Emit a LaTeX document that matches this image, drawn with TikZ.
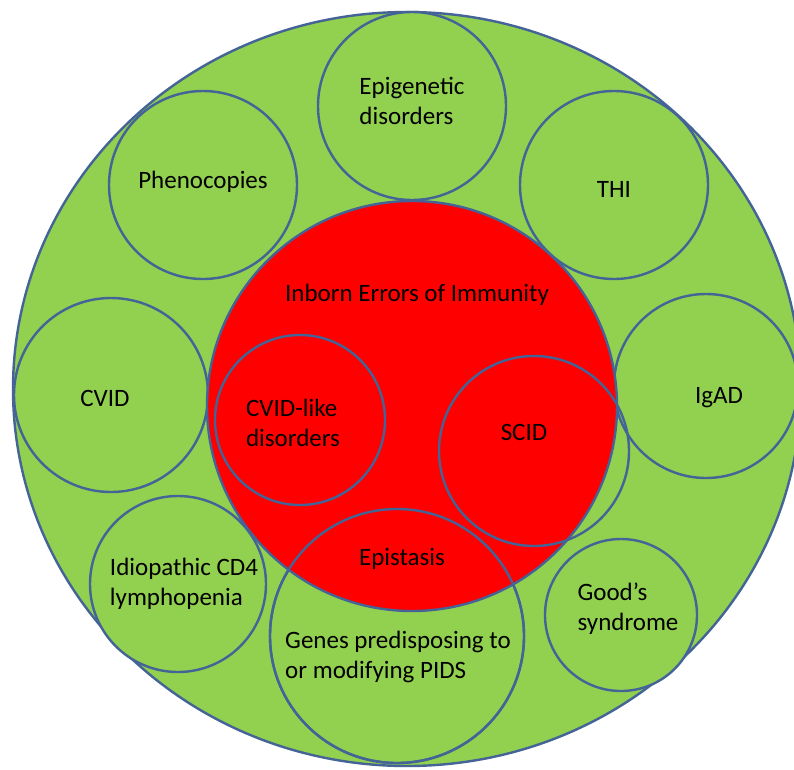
\documentclass[tikz,border=0pt]{standalone}
\usepackage{fontspec}
\setmainfont{Carlito}
\definecolor{gfill}{RGB}{146,208,80}
\definecolor{rfill}{RGB}{255,0,0}
\definecolor{edge}{RGB}{68,99,150}
\begin{document}
\begin{tikzpicture}[x=1pt,y=-1pt,
  ring/.style={circle,draw=edge,line width=2.4pt,inner sep=0pt},
  gcirc/.style={ring,fill=gfill},
  ocirc/.style={ring},
  lbl/.style={font=\fontsize{25}{30}\selectfont,text=black,align=left,inner sep=0pt}]
\useasboundingbox (0,0) rectangle (794,769);
\fill[white] (0,0) rectangle (794,769);
% outer
\draw[draw=edge,line width=2.4pt,fill=gfill] (407,389) ellipse [x radius=394,y radius=377];
% green circles
\node[gcirc,minimum size=188pt] (epi) at (412,106) {};
\node[gcirc,minimum size=188pt] (phe) at (203,185) {};
\node[gcirc,minimum size=188pt] (thi) at (614,185) {};
\node[gcirc,minimum size=194pt] (cvid) at (111,395) {};
\node[gcirc,minimum size=184pt] (igad) at (706,386) {};
\node[gcirc,minimum size=176pt] (icd) at (178,584) {};
\node[gcirc,minimum size=152pt] (good) at (621,615) {};
\node[gcirc,minimum size=254pt] (genes) at (397,636) {};
% red circle
\node[ring,fill=rfill,minimum size=410pt] (iei) at (412,406) {};
% outline circles on top
\node[ocirc,minimum size=170pt] (cvl) at (300,420) {};
\node[ocirc,minimum size=190pt] (scid) at (534,451) {};
\node[ocirc,minimum size=254pt] (genes2) at (397,636) {};
% labels
\node[lbl] (tepi) at (412,101) {Epigenetic\\disorders};
\node[lbl] (tphe) at (203,182) {Phenocopies};
\node[lbl] (tthi) at (614,189) {THI};
\node[lbl] (tiei) at (417,295) {Inborn Errors of Immunity};
\node[lbl] (tcvid) at (105,398) {CVID};
\node[lbl] (tcvl) at (293,423) {CVID-like\\disorders};
\node[lbl] (tscid) at (524,432) {SCID};
\node[lbl] (tigad) at (719,398) {IgAD};
\node[lbl] (tepis) at (402,559) {Epistasis};
\node[lbl] (ticd) at (184,584) {Idiopathic CD4\\lymphopenia};
\node[lbl] (tgenes) at (398,657) {Genes predisposing to\\or modifying PIDS};
\node[lbl] (tgood) at (628,609) {Good’s\\syndrome};
\end{tikzpicture}
\end{document}
